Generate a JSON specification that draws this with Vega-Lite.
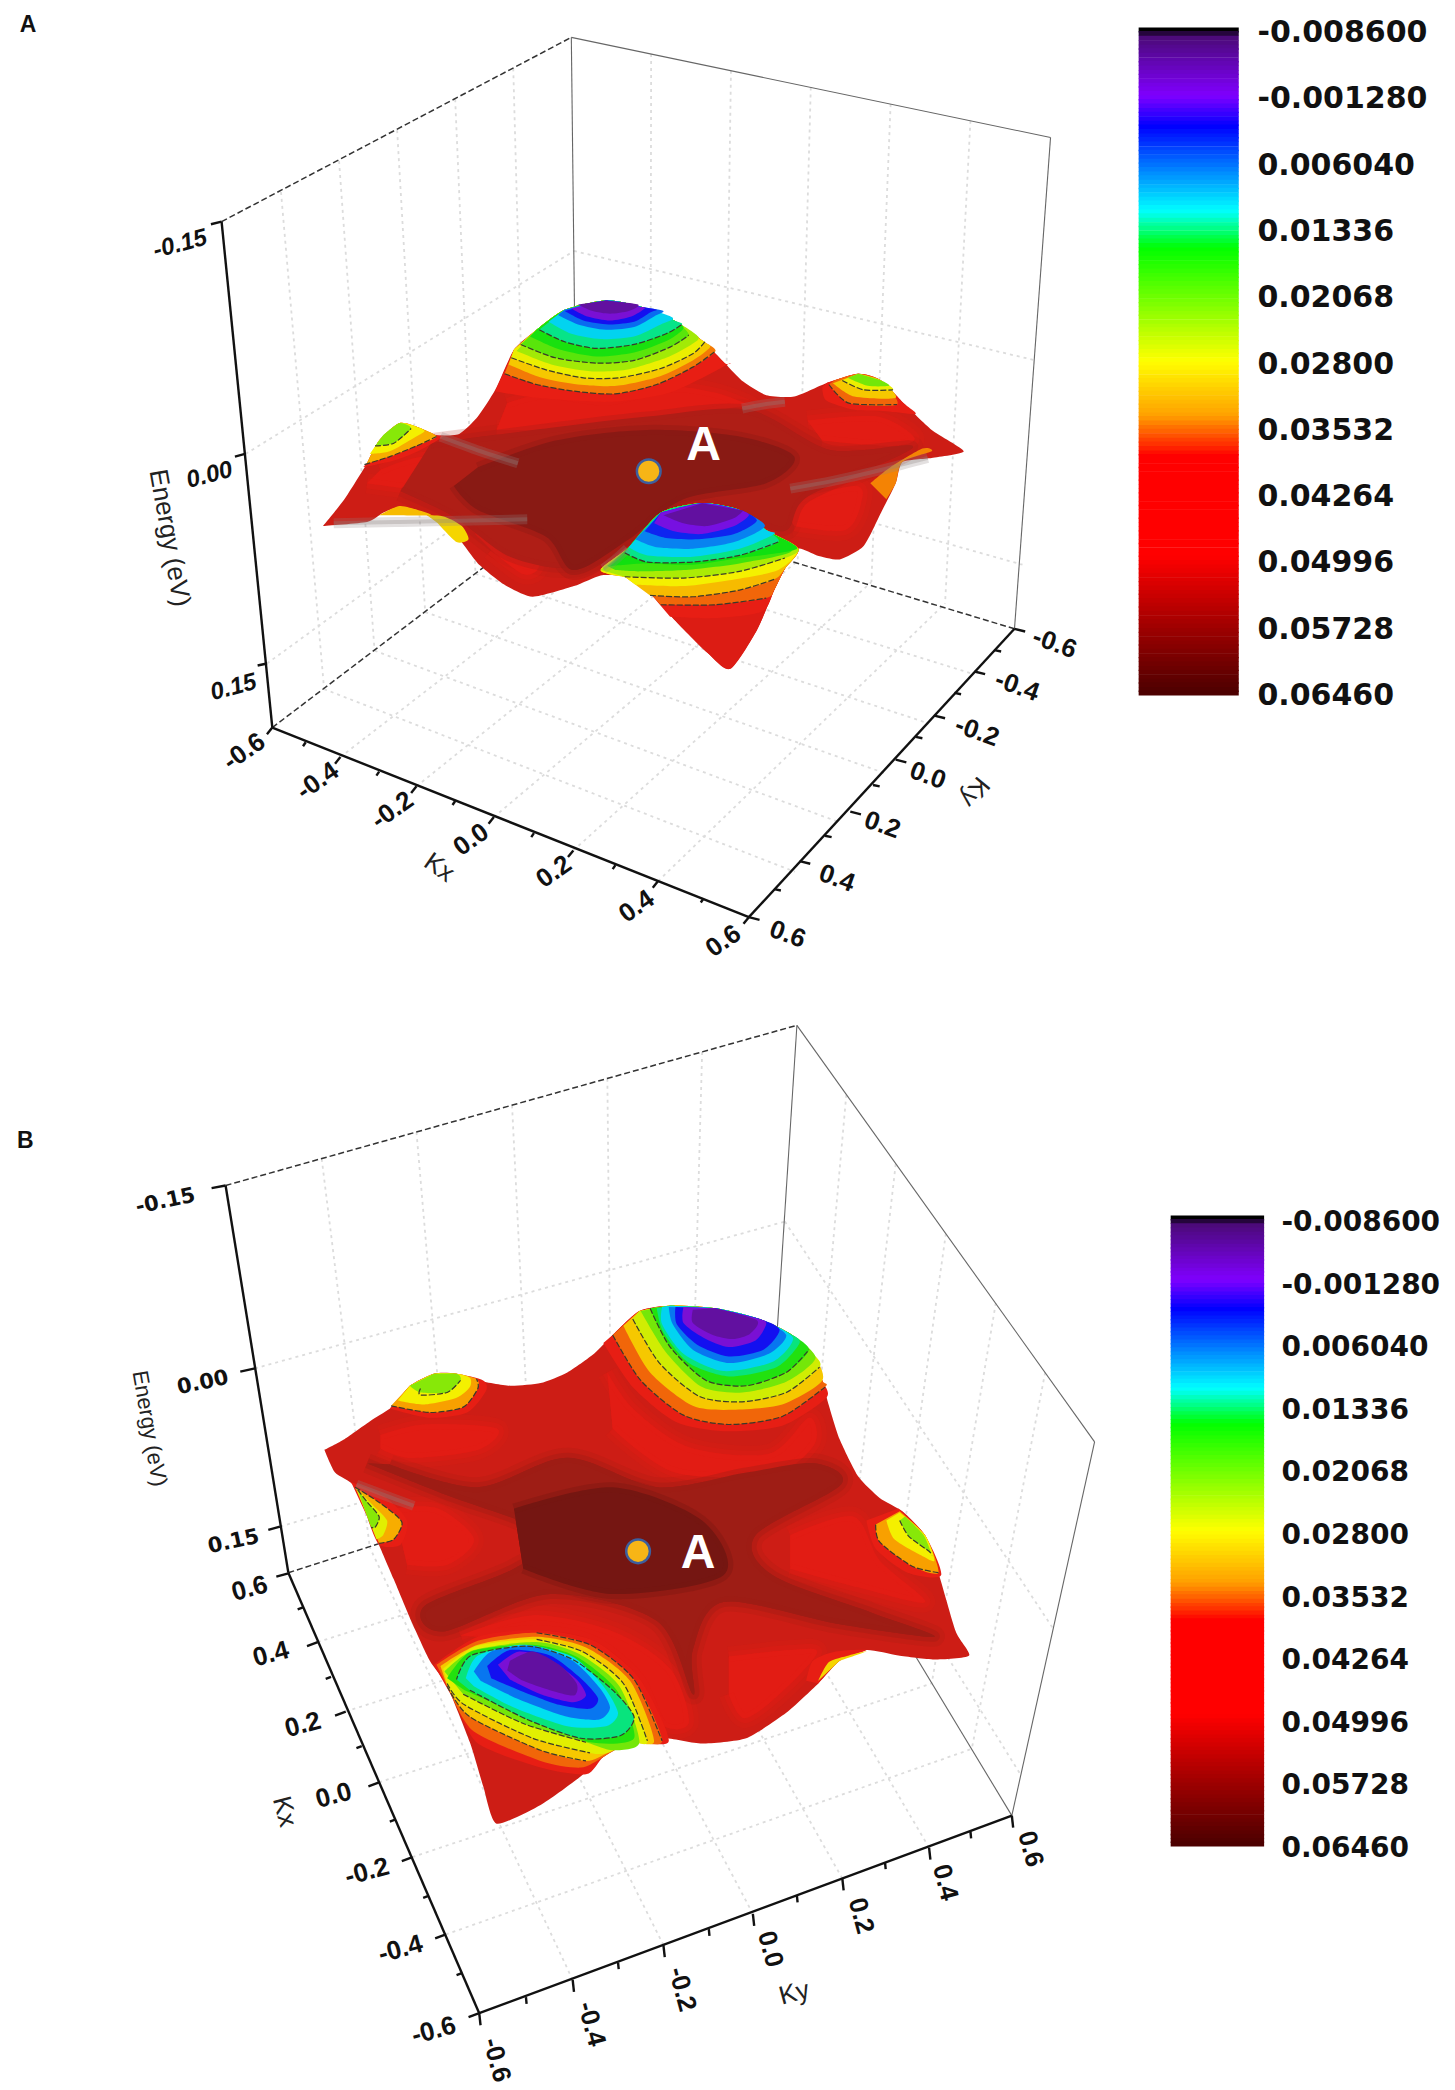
{
"$schema":"https://vega.github.io/schema/vega-lite/v6.json",
"width":1455,"height":2090,"padding":0,
"autosize":{"type":"fit","contains":"padding"},
"background":"white",
"config":{"view":{"stroke":null}},
"datasets":{
"grid":[
{"x":210.5,"y":143.8,"x2":242.8,"y2":516.2},{"x":254,"y":120.6,"x2":280.6,"y2":487.4},{"x":297.5,"y":97.5,"x2":318.5,"y2":458.5},{"x":341,"y":74.3,"x2":356.2,"y2":429.8},{"x":384.5,"y":51.2,"x2":394,"y2":401},
{"x":184,"y":340,"x2":430,"y2":188},{"x":200,"y":497,"x2":431,"y2":329},
{"x":487.8,"y":40.5,"x2":487.2,"y2":388},{"x":547.6,"y":53,"x2":542.4,"y2":404},{"x":607.4,"y":65.5,"x2":597.6,"y2":420},{"x":667.2,"y":78,"x2":652.8,"y2":436},{"x":727,"y":90.5,"x2":708,"y2":452},
{"x":430,"y":188,"x2":776,"y2":270},{"x":431,"y":329,"x2":766,"y2":423},
{"x":242.8,"y":516.2,"x2":595.5,"y2":653},{"x":280.6,"y":487.4,"x2":629,"y2":616},{"x":318.5,"y":458.5,"x2":662.5,"y2":579},{"x":356.2,"y":429.8,"x2":696,"y2":542},{"x":394,"y":401,"x2":729.5,"y2":505},
{"x":255,"y":567,"x2":487.2,"y2":388},{"x":312,"y":589,"x2":542.4,"y2":404},{"x":370,"y":612,"x2":597.6,"y2":420},{"x":429.5,"y":637,"x2":652.8,"y2":436},{"x":493,"y":660,"x2":708,"y2":452},
{"x":241,"y":868,"x2":277,"y2":1159},{"x":312,"y":848,"x2":337,"y2":1139},{"x":383.6,"y":828,"x2":398,"y2":1120},{"x":455,"y":808,"x2":458,"y2":1101},{"x":526,"y":788,"x2":518,"y2":1081},
{"x":191,"y":1025,"x2":588,"y2":915},{"x":210,"y":1143.5,"x2":580,"y2":1032},
{"x":634,"y":820,"x2":608,"y2":1112},{"x":671,"y":872,"x2":638,"y2":1161},{"x":708.6,"y":924,"x2":668,"y2":1211},{"x":746,"y":976,"x2":698,"y2":1261},{"x":783,"y":1028,"x2":728,"y2":1310},
{"x":588,"y":915,"x2":789,"y2":1220},{"x":580,"y":1032,"x2":765,"y2":1330},
{"x":238,"y":1230,"x2":608,"y2":1112},{"x":259,"y":1282,"x2":638,"y2":1161},{"x":284,"y":1335,"x2":668,"y2":1211},{"x":309,"y":1391,"x2":698,"y2":1261},{"x":334,"y":1449,"x2":728,"y2":1310},
{"x":429,"y":1483,"x2":277,"y2":1159},{"x":497,"y":1457,"x2":337.4,"y2":1139},{"x":564,"y":1433.5,"x2":397.6,"y2":1120},{"x":631,"y":1407,"x2":457.8,"y2":1101},{"x":696,"y":1384,"x2":518,"y2":1081}
],
"thin":[
{"x":428,"y":28,"x2":787,"y2":103},{"x":787,"y":103,"x2":760,"y2":471},{"x":428,"y":28,"x2":432,"y2":372},
{"x":597,"y":768,"x2":820,"y2":1080},{"x":820,"y":1080,"x2":758,"y2":1360},{"x":597,"y":768,"x2":578,"y2":1062},{"x":758,"y":1360,"x2":578,"y2":1062}
],
"dash":[
{"x":166,"y":166,"x2":428,"y2":28},{"x":204,"y":545,"x2":432,"y2":372},{"x":760,"y":471,"x2":432,"y2":372},
{"x":169,"y":888,"x2":597,"y2":768},{"x":216,"y":1178,"x2":578,"y2":1062}
],
"axis":[
{"x":166,"y":166,"x2":204,"y2":545},{"x":204,"y":545,"x2":561,"y2":687},{"x":561,"y":687,"x2":760,"y2":471},
{"x":169,"y":888,"x2":216,"y2":1178},{"x":216,"y":1178,"x2":359,"y2":1508},{"x":359,"y":1508,"x2":758,"y2":1360},
{"x":166,"y":166,"x2":158,"y2":168},{"x":183.5,"y":340,"x2":176,"y2":342},{"x":200,"y":497,"x2":193,"y2":498.5},
{"x":204,"y":545,"x2":200,"y2":550},{"x":255,"y":567,"x2":251,"y2":572},{"x":312,"y":589,"x2":308,"y2":594},{"x":370,"y":612,"x2":366,"y2":617},{"x":429.5,"y":637,"x2":425.5,"y2":642},{"x":493,"y":660,"x2":489,"y2":665},{"x":561,"y":687,"x2":557,"y2":692},
{"x":229,"y":556,"x2":227,"y2":559},{"x":284,"y":578,"x2":282,"y2":581},{"x":341,"y":600,"x2":339,"y2":603},{"x":400,"y":624,"x2":398,"y2":627},{"x":461,"y":648,"x2":459,"y2":651},{"x":527,"y":673,"x2":525,"y2":676},
{"x":760,"y":471,"x2":768,"y2":473},{"x":730,"y":503,"x2":738,"y2":505},{"x":700,"y":536,"x2":708,"y2":538},{"x":671,"y":569,"x2":679,"y2":571},{"x":637,"y":608,"x2":645,"y2":610},{"x":599,"y":645,"x2":607,"y2":647},{"x":561,"y":687,"x2":569,"y2":689},
{"x":745,"y":487,"x2":750,"y2":488},{"x":715,"y":519,"x2":720,"y2":520},{"x":686,"y":552,"x2":691,"y2":553},{"x":654,"y":588,"x2":659,"y2":589},{"x":618,"y":626,"x2":623,"y2":627},{"x":580,"y":666,"x2":585,"y2":667},
{"x":169,"y":888,"x2":158.5,"y2":890},{"x":191,"y":1025,"x2":180,"y2":1027.4},{"x":209.7,"y":1143.5,"x2":201,"y2":1146},
{"x":216,"y":1178.5,"x2":207,"y2":1181},{"x":238,"y":1230,"x2":230,"y2":1233},{"x":259,"y":1282,"x2":251,"y2":1285},{"x":284,"y":1335,"x2":276,"y2":1338},{"x":309,"y":1391,"x2":301,"y2":1394},{"x":334,"y":1449,"x2":326,"y2":1452},{"x":359,"y":1508,"x2":351,"y2":1511},
{"x":227,"y":1204,"x2":223,"y2":1205.5},{"x":248,"y":1256,"x2":244,"y2":1257.5},{"x":271,"y":1308,"x2":267,"y2":1309.5},{"x":296,"y":1363,"x2":292,"y2":1364.5},{"x":321,"y":1420,"x2":317,"y2":1421.5},{"x":346,"y":1478,"x2":342,"y2":1479.5},
{"x":359,"y":1508,"x2":360,"y2":1517},{"x":429,"y":1483,"x2":430,"y2":1492},{"x":497,"y":1457,"x2":498,"y2":1466},{"x":564,"y":1433.5,"x2":565,"y2":1442.5},{"x":631,"y":1407,"x2":632,"y2":1416},{"x":696,"y":1384,"x2":697,"y2":1393},{"x":758,"y":1360,"x2":759,"y2":1369},
{"x":394,"y":1496,"x2":394.5,"y2":1501},{"x":463,"y":1470,"x2":463.5,"y2":1475},{"x":531,"y":1445,"x2":531.5,"y2":1450},{"x":597,"y":1420,"x2":597.5,"y2":1425},{"x":663,"y":1395,"x2":663.5,"y2":1400},{"x":727,"y":1372,"x2":727.5,"y2":1377}
],
"sheet":[
{"id":"sa","v":0.052,"x":[242,258,275,284,299,313,327,344,358,371,385,402,423,454,481,505,526,543,557,574,595,619,643,660,677,698,722,698,676,671,660,647,629,612,598,588,580,567,547,530,505,485,468,450,430,399,378,358,344,327,313,299,287,275,242],"y":[394,374,347,330,317,320,326,325,312,292,262,247,232,225,230,240,255,272,286,296,297,287,280,285,302,322,338,343,346,362,384,409,419,416,411,426,442,472,501,489,464,442,432,431,439,447,438,422,404,390,383,380,384,391,394]},
{"id":"sb","v":0.052,"x":[243,258,278,295,307,325,342,358,382,405,425,445,459,479,502,536,569,592,609,616,621,629,643,659,676,693,703,716,726,700,673,649,629,613,589,559,526,499,472,452,432,405,372,362,352,335,322,308,295,283,266,251,243],"y":[1086,1078,1064,1053,1038,1029,1029,1034,1038,1036,1028,1014,1000,982,978,980,988,999,1014,1034,1053,1078,1106,1122,1132,1150,1178,1222,1240,1243,1240,1236,1244,1261,1283,1302,1306,1302,1305,1316,1333,1352,1366,1338,1305,1263,1244,1214,1183,1155,1114,1103,1086]}
],
"patches":[
{"id":"a01","v":0.047,"x":[285,323,375,361,313,275],"y":[352,342,362,372,367,362]},
{"id":"a02","v":0.047,"x":[605,657,685,667,616],"y":[315,312,328,334,330]},
{"id":"a03","v":0.047,"x":[585,640,645,633,595],"y":[377,364,377,397,394]},
{"id":"a04","v":0.047,"x":[356,375,402,404,392,368],"y":[400,392,400,424,430,412]},
{"id":"a05","v":0.047,"x":[372,402,457,512,550,562,535,500,455,410,380],"y":[322,322,320,313,305,304,294,290,300,295,302]},
{"id":"a06","v":0.056,"x":[323,416,485,561,622,684,605,585,519,471,430,382,340,300],"y":[332,320,312,307,337,335,372,398,374,404,425,417,387,368]},
{"id":"a07","v":0.06,"x":[358,416,485,554,595,574,512,471,430,409,358,340],"y":[350,330,322,327,342,362,374,404,427,402,382,364]},
{"id":"b01","v":0.047,"x":[285,318,372,358,308,285],"y":[1075,1067,1070,1086,1092,1085]},
{"id":"b02","v":0.047,"x":[295,328,355,335,305],"y":[1130,1130,1153,1172,1172]},
{"id":"b03","v":0.047,"x":[592,639,659,693,643,592],"y":[1150,1136,1169,1200,1189,1175]},
{"id":"b04","v":0.047,"x":[546,592,612,585,558,546],"y":[1241,1236,1238,1268,1287,1269]},
{"id":"b05","v":0.047,"x":[345,399,459,502,516,496,479,445,402,358],"y":[1225,1210,1222,1250,1290,1292,1257,1229,1221,1226]},
{"id":"b06","v":0.047,"x":[455,475,516,576,606,610,579,506,459],"y":[1028,1056,1084,1089,1062,1082,1104,1103,1070]},
{"id":"b07","v":0.058,"x":[292,358,425,492,559,610,630,566,579,653,700,626,542,519,519,492,412,332,318,385,412,335,275],"y":[1097,1114,1092,1114,1103,1096,1112,1150,1180,1208,1226,1216,1200,1236,1269,1214,1194,1222,1203,1175,1150,1120,1096]},
{"id":"b08","v":0.062,"x":[385,459,526,542,459,392],"y":[1130,1114,1139,1180,1194,1175]}
],
"bands":[
{"id":"a11","v":0.04,"x":[272,295,315,332,327,313,299,284,275],"y":[350,345,337,327,326,320,317,330,347]},
{"id":"a12","v":0.033,"x":[273,292,312,327,313,299,284,275],"y":[348,342,334,327,320,317,330,347]},
{"id":"a13","v":0.028,"x":[277,292,310,318,313,299,284],"y":[340,338,328,323,320,317,330]},
{"id":"a14","v":0.022,"x":[281,295,308,299,287],"y":[334,332,321,317,326]},
{"id":"a21","v":0.04,"x":[616,619,640,664,686,677,660,643,619],"y":[290,300,307,308,310,302,285,280,287]},
{"id":"a22","v":0.036,"x":[621,636,672,660,643,625],"y":[288,302,303,285,280,285]},
{"id":"a23","v":0.031,"x":[624,640,671,660,643],"y":[287,297,298,285,280]},
{"id":"a24","v":0.0275,"x":[631,647,669,660,643],"y":[285,292,292,285,280]},
{"id":"a25","v":0.021,"x":[635,650,666,660,643],"y":[283,289,289,285,280]},
{"id":"a31","v":0.03,"x":[320,333,346,351,342,328],"y":[386,387,394,404,406,392]},
{"id":"a32","v":0.032,"x":[284,299,313,323,299],"y":[386,379,382,386,386]},
{"id":"a33","v":0.035,"x":[652,667,691,698,676,671,664],"y":[362,350,336,338,346,362,374]},
{"id":"a41","v":0.039,"x":[371,402,457,502,545,543,526,505,481,454,423,402,385],"y":[293,298,301,294,273,272,255,240,230,225,232,247,262]},
{"id":"a42","v":0.0353,"x":[378,402,430,461,492,519,536,526,505,481,454,423,402,385],"y":[280,288,293,295,288,275,263,255,240,230,225,232,247,262]},
{"id":"a43","v":0.031,"x":[381,406,433,462,494,519,532,526,505,481,454,423,402,385],"y":[273,283,288,289,282,270,260,255,240,230,225,232,247,262]},
{"id":"a44","v":0.0275,"x":[383,409,437,464,495,519,528,526,505,481,454,423,402,385],"y":[268,277,283,283,276,265,256,255,240,230,225,232,247,262]},
{"id":"a45","v":0.0235,"x":[387,413,442,469,499,518,523,505,481,454,423,402],"y":[263,273,278,277,268,258,252,240,230,225,232,247]},
{"id":"a46","v":0.0195,"x":[390,416,447,475,502,516,505,481,454,423,402],"y":[258,268,272,270,260,251,240,230,225,232,247]},
{"id":"a47","v":0.016,"x":[397,420,447,475,500,512,505,481,454,423,402],"y":[252,262,267,264,255,246,240,230,225,232,247]},
{"id":"a48","v":0.0133,"x":[404,423,447,475,499,511,505,481,454,423],"y":[247,256,261,258,250,243,240,230,225,232]},
{"id":"a49","v":0.0105,"x":[411,428,450,475,495,504,481,454,423],"y":[241,250,254,252,243,238,230,225,232]},
{"id":"a50","v":0.006,"x":[418,433,454,475,490,497,481,454,423],"y":[236,243,247,245,237,233,230,225,232]},
{"id":"a51","v":0.002,"x":[423,437,456,475,487,492,481,454],"y":[233,240,243,241,234,232,230,225]},
{"id":"a52","v":-0.002,"x":[428,440,457,473,483,481,454],"y":[231,237,240,237,231,230,225]},
{"id":"a53","v":-0.005,"x":[433,444,457,471,478,454],"y":[228,233,235,233,228,225]},
{"id":"a60","v":0.05,"x":[450,471,495,526,554,574,598,588,580,567,547,530,505,485,468],"y":[427,410,384,377,382,397,411,426,442,472,501,489,464,442,432]},
{"id":"a61","v":0.04,"x":[502,536,571,580,588,598,574,554,526,495,471,450,468,485],"y":[462,463,458,442,426,411,397,382,377,384,410,427,432,442]},
{"id":"a62","v":0.036,"x":[495,536,574,580,588,598,574,554,526,495,471,450,468,485],"y":[453,453,448,442,426,411,397,382,377,384,410,427,432,442]},
{"id":"a63","v":0.032,"x":[487,519,554,580,588,598,574,554,526,495,471,450,468],"y":[446,447,442,434,426,411,397,382,377,384,410,427,432]},
{"id":"a64","v":0.028,"x":[476,512,550,583,598,574,554,526,495,471,450,468],"y":[438,439,434,427,411,397,382,377,384,410,427,432]},
{"id":"a65","v":0.024,"x":[468,512,554,588,598,574,554,526,495,471,450],"y":[432,433,428,418,411,397,382,377,384,410,427]},
{"id":"a66","v":0.018,"x":[461,478,512,554,593,574,554,526,495,471,455],"y":[427,428,427,422,413,397,382,377,384,410,424]},
{"id":"a67","v":0.0155,"x":[457,482,519,554,597,574,554,526,495,471],"y":[424,422,423,418,411,397,382,377,384,410]},
{"id":"a68","v":0.0133,"x":[468,485,519,554,583,574,554,526,495,471],"y":[414,421,421,416,406,397,382,377,384,410]},
{"id":"a69","v":0.0105,"x":[471,485,519,554,580,574,554,526,495],"y":[410,416,417,411,400,397,382,377,384]},
{"id":"a70","v":0.007,"x":[476,492,519,550,573,554,526,495],"y":[404,410,411,406,394,382,377,384]},
{"id":"a71","v":0.003,"x":[483,499,523,550,567,554,526,495],"y":[398,403,404,400,390,382,377,384]},
{"id":"a72","v":-0.001,"x":[490,505,526,550,561,554,526,495],"y":[392,398,400,394,386,382,377,384]},
{"id":"a73","v":-0.005,"x":[497,512,530,550,557,554,526],"y":[386,392,394,388,382,382,377]},
{"id":"b11","v":0.04,"x":[292,322,350,364,362,342,325,307],"y":[1055,1062,1058,1042,1034,1029,1029,1038]},
{"id":"b12","v":0.034,"x":[293,322,347,358,357,342,325,307],"y":[1053,1058,1054,1040,1033,1029,1029,1038]},
{"id":"b13","v":0.028,"x":[298,318,342,352,352,342,325,307],"y":[1049,1052,1047,1039,1032,1029,1029,1038]},
{"id":"b14","v":0.022,"x":[307,315,335,345,342,325],"y":[1038,1043,1043,1034,1029,1029]},
{"id":"b21","v":0.04,"x":[263,288,305,300,284,275],"y":[1110,1121,1139,1157,1157,1136]},
{"id":"b22","v":0.033,"x":[266,285,301,295,284],"y":[1114,1126,1140,1153,1156]},
{"id":"b23","v":0.027,"x":[267,280,290,287,282],"y":[1115,1128,1139,1150,1153]},
{"id":"b24","v":0.022,"x":[268,275,284,281,278],"y":[1116,1125,1136,1144,1144]},
{"id":"b31","v":0.04,"x":[649,656,680,705,693,673],"y":[1139,1160,1178,1180,1150,1130]},
{"id":"b32","v":0.034,"x":[656,659,683,703,693,674],"y":[1142,1155,1173,1178,1150,1132]},
{"id":"b33","v":0.028,"x":[664,670,690,700,693,674],"y":[1139,1153,1165,1169,1150,1133]},
{"id":"b34","v":0.022,"x":[674,681,696,698,692,678],"y":[1139,1151,1162,1165,1150,1136]},
{"id":"b41","v":0.04,"x":[604,609,626,649,629,613],"y":[1259,1244,1237,1236,1244,1261]},
{"id":"b42","v":0.03,"x":[613,621,636,649,629],"y":[1259,1245,1240,1237,1244]},
{"id":"b50","v":0.04,"x":[452,474,506,542,586,619,616,609,592,569,536,502,479,459],"y":[1006,1039,1065,1072,1068,1047,1034,1014,999,988,980,978,982,1000]},
{"id":"b51","v":0.036,"x":[459,480,512,546,586,618,616,609,592,569,536,502,479],"y":[1000,1034,1060,1067,1061,1039,1034,1014,999,988,980,978,982]},
{"id":"b52","v":0.031,"x":[467,487,519,549,586,616,609,592,569,536,502,479],"y":[993,1028,1053,1056,1052,1034,1014,999,988,980,978,982]},
{"id":"b53","v":0.026,"x":[474,494,524,556,589,614,609,592,569,536,502,479],"y":[988,1021,1046,1050,1043,1024,1014,999,988,980,978,982]},
{"id":"b54","v":0.021,"x":[480,499,526,556,589,611,592,569,536,502],"y":[982,1013,1039,1043,1035,1017,999,988,980,978]},
{"id":"b55","v":0.0165,"x":[487,502,529,559,589,606,592,569,536,502],"y":[980,1009,1034,1038,1028,1011,999,988,980,978]},
{"id":"b56","v":0.0135,"x":[492,497,516,546,582,599,592,569,536,502],"y":[980,998,1021,1031,1024,1006,999,988,980,978]},
{"id":"b57","v":0.0105,"x":[496,496,512,542,579,594,569,536,502],"y":[979,992,1014,1027,1020,1002,988,980,978]},
{"id":"b58","v":0.0065,"x":[501,504,519,546,576,589,569,536],"y":[979,992,1011,1021,1014,1000,988,980]},
{"id":"b59","v":0.002,"x":[506,507,522,546,572,584,569,536],"y":[979,992,1007,1016,1011,996,988,980]},
{"id":"b60","v":-0.002,"x":[512,512,527,546,566,574,569,536],"y":[979,991,1002,1009,1004,992,988,980]},
{"id":"b61","v":-0.005,"x":[519,519,534,549,562,567,536],"y":[981,991,1000,1003,999,989,980]},
{"id":"b70","v":0.04,"x":[325,358,402,445,479,501,472,452,439,405,358,342],"y":[1247,1226,1221,1229,1257,1304,1305,1316,1329,1324,1306,1277]},
{"id":"b71","v":0.036,"x":[327,358,402,442,475,496,472,452,435,405,355,338],"y":[1247,1229,1223,1232,1258,1304,1305,1316,1324,1319,1297,1269]},
{"id":"b72","v":0.031,"x":[330,358,402,439,472,490,472,455,439,405,352,335],"y":[1248,1232,1226,1234,1259,1304,1305,1313,1319,1311,1286,1263]},
{"id":"b73","v":0.027,"x":[332,357,402,436,467,485,472,455,442,399,348,335],"y":[1250,1233,1228,1237,1261,1304,1305,1313,1313,1302,1277,1261]},
{"id":"b74","v":0.021,"x":[333,355,402,434,464,479,459,439,392,347],"y":[1252,1236,1230,1239,1263,1305,1311,1305,1291,1269]},
{"id":"b75","v":0.0165,"x":[335,353,399,432,462,475,442,399,348],"y":[1257,1237,1232,1241,1266,1302,1305,1288,1266]},
{"id":"b76","v":0.0135,"x":[342,353,395,429,459,475,465,435,395,352],"y":[1258,1240,1233,1243,1266,1286,1300,1302,1288,1266]},
{"id":"b77","v":0.011,"x":[349,358,392,429,452,463,454,425,385,355],"y":[1257,1240,1232,1241,1263,1283,1293,1293,1279,1263]},
{"id":"b78","v":0.0065,"x":[355,368,399,429,449,457,449,425,389,360],"y":[1252,1237,1233,1244,1264,1279,1288,1286,1273,1259]},
{"id":"b79","v":0.002,"x":[365,382,412,435,448,442,419,389,368],"y":[1248,1236,1240,1257,1272,1280,1277,1266,1257]},
{"id":"b80","v":-0.002,"x":[373,389,412,432,439,429,405,382],"y":[1247,1237,1243,1258,1270,1275,1269,1258]},
{"id":"b81","v":-0.005,"x":[382,399,419,432,430,412,392,380],"y":[1244,1237,1247,1261,1270,1266,1259,1251]}
],
"contours":[
{"id":"c01","x":[378,402,430,461,492,519,536],"y":[280,288,293,295,288,275,263]},
{"id":"c02","x":[383,409,437,464,495,519,528],"y":[268,277,283,283,276,265,256]},
{"id":"c03","x":[390,416,447,475,502,516],"y":[258,268,272,270,260,251]},
{"id":"c04","x":[404,423,447,475,499,511],"y":[247,256,261,258,250,243]},
{"id":"c05","x":[273,292,312,327],"y":[348,342,334,327]},
{"id":"c06","x":[281,295,308],"y":[334,332,321]},
{"id":"c07","x":[621,636,672],"y":[288,302,303]},
{"id":"c08","x":[631,647,669],"y":[285,292,292]},
{"id":"c09","x":[495,536,574],"y":[453,453,448]},
{"id":"c10","x":[487,519,554,580],"y":[446,447,442,434]},
{"id":"c11","x":[468,512,554,588],"y":[432,433,428,418]},
{"id":"c12","x":[468,485,519,554,583],"y":[414,421,421,416,406]},
{"id":"c13","x":[459,480,512,546,586,618],"y":[1000,1034,1060,1067,1061,1039]},
{"id":"c14","x":[474,494,524,556,589,614],"y":[988,1021,1046,1050,1043,1024]},
{"id":"c15","x":[487,502,529,559,589,606],"y":[980,1009,1034,1038,1028,1011]},
{"id":"c16","x":[293,322,347,358,357],"y":[1053,1058,1054,1040,1033]},
{"id":"c17","x":[315,315,335,345],"y":[1040,1045,1043,1034]},
{"id":"c18","x":[266,285,301,295,284],"y":[1114,1126,1140,1153,1156]},
{"id":"c19","x":[268,275,284,281,278],"y":[1116,1125,1136,1144,1144]},
{"id":"c20","x":[656,659,683,703],"y":[1142,1155,1173,1178]},
{"id":"c21","x":[674,681,696,698],"y":[1139,1151,1162,1165]},
{"id":"c22","x":[335,352,405,439],"y":[1263,1286,1311,1319]},
{"id":"c23","x":[335,348,399,442],"y":[1261,1277,1302,1313]},
{"id":"c24","x":[347,392,439],"y":[1269,1291,1305]},
{"id":"c25","x":[352,395,435,465,475,459,429,395,353,342],"y":[1266,1288,1302,1300,1286,1266,1243,1233,1240,1258]},
{"id":"c26","x":[402,442,475,496],"y":[1223,1232,1258,1304]},
{"id":"c27","x":[402,436,467,485],"y":[1228,1237,1261,1304]}
],
"streaks":[
{"id":"s1","x":[250,300,395],"y":[392,391,389]},
{"id":"s2","x":[330,360,388],"y":[327,338,347]},
{"id":"s3","x":[556,572,588],"y":[306,303,301]},
{"id":"s4","x":[592,625,660,695],"y":[366,360,352,343]},
{"id":"s5","x":[452,460,470],"y":[426,420,411]},
{"id":"s6","x":[267,288,310],"y":[1112,1120,1128]}
],
"markers":[{"x":486,"y":353},{"x":478,"y":1162}],
"onsheet":[{"t":"A","x":527,"y":334},{"t":"A","x":523,"y":1164}],
"panels":[{"t":"A","x":21,"y":19},{"t":"B","x":19,"y":855}],
"ticklabels":[
{"t":"-0.6","x":183,"y":563,"a":325},{"t":"-0.4","x":238,"y":585,"a":325},{"t":"-0.2","x":294,"y":607,"a":325},{"t":"0.0","x":353,"y":629,"a":325},{"t":"0.2","x":415,"y":653,"a":325},{"t":"0.4","x":477,"y":679,"a":325},{"t":"0.6","x":542,"y":705,"a":325},
{"t":"-0.6","x":790,"y":482,"a":20},{"t":"-0.4","x":762,"y":514,"a":20},{"t":"-0.2","x":732,"y":548,"a":20},{"t":"0.0","x":695,"y":581,"a":20},{"t":"0.2","x":661,"y":618,"a":20},{"t":"0.4","x":627,"y":658,"a":20},{"t":"0.6","x":590,"y":700,"a":20},
{"t":"0.6","x":187,"y":1190,"a":345},{"t":"0.4","x":203,"y":1239,"a":345},{"t":"0.2","x":227,"y":1292,"a":345},{"t":"0.0","x":250,"y":1345,"a":345},{"t":"-0.2","x":275,"y":1402,"a":345},{"t":"-0.4","x":300,"y":1460,"a":345},{"t":"-0.6","x":325,"y":1521,"a":345},
{"t":"-0.6","x":372,"y":1543,"a":75},{"t":"-0.4","x":443,"y":1516,"a":75},{"t":"-0.2","x":511,"y":1490,"a":75},{"t":"0.0","x":577,"y":1460,"a":75},{"t":"0.2","x":645,"y":1435,"a":75},{"t":"0.4","x":708,"y":1410,"a":75},{"t":"0.6","x":772,"y":1385,"a":75}
],
"energyA":[{"t":"-0.15","x":135,"y":183,"a":345},{"t":"0.00","x":157,"y":356,"a":345},{"t":"0.15","x":175,"y":515,"a":345}],
"energyB":[{"t":"-0.15","x":124,"y":900,"a":348},{"t":"0.00","x":152,"y":1036,"a":348},{"t":"0.15","x":175,"y":1155,"a":348}],
"titles":[
{"t":"Energy (eV)","x":127,"y":403,"a":80},{"t":"Kx","x":329,"y":650,"a":35},{"t":"Ky","x":730,"y":593,"a":130},
{"t":"Kx","x":213,"y":1357,"a":75},{"t":"Ky","x":595,"y":1493,"a":345}
],
"titlesSmall":[{"t":"Energy (eV)","x":112,"y":1070,"a":80}],
"ramp":[{"v":[-0.0086,-0.0082,-0.0077,-0.0072,-0.0067,-0.0063,-0.0058,-0.0053,-0.0049,-0.0044,-0.0039,-0.0035,-0.003,-0.0025,-0.0021,-0.0016,-0.0011,-0.0007,-0.0002,0.0003,0.0007,0.0012,0.0017,0.0021,0.0026,0.0031,0.0035,0.004,0.0045,0.0049,0.0054,0.0059,0.0063,0.0068,0.0073,0.0077,0.0082,0.0087,0.0091,0.0096,0.0101,0.0105,0.011,0.0115,0.0119,0.0124,0.0129,0.0133,0.0138,0.0143,0.0147,0.0152,0.0157,0.0161,0.0166,0.0171,0.0175,0.018,0.0185,0.0189,0.0194,0.0199,0.0203,0.0208,0.0213,0.0217,0.0222,0.0227,0.0231,0.0236,0.0241,0.0245,0.025,0.0255,0.0259,0.0264,0.0269,0.0273,0.0278,0.0283,0.0287,0.0292,0.0297,0.0301,0.0306,0.0311,0.0315,0.032,0.0325,0.0329,0.0334,0.0339,0.0343,0.0348,0.0353,0.0357,0.0362,0.0367,0.0371,0.0376,0.0381,0.0385,0.039,0.0395,0.0399,0.0404,0.0409,0.0413,0.0418,0.0423,0.0427,0.0432,0.0437,0.0441,0.0446,0.0451,0.0455,0.046,0.0465,0.0469,0.0474,0.0479,0.0483,0.0488,0.0493,0.0497,0.0502,0.0507,0.0511,0.0516,0.0521,0.0525,0.053,0.0535,0.0539,0.0544,0.0549,0.0553,0.0558,0.0563,0.0567,0.0572,0.0577,0.0581,0.0586,0.0591,0.0595,0.06,0.0605,0.0609,0.0614,0.0619,0.0623,0.0628,0.0633,0.0637,0.0642,0.0646]}],
"rampLabels":[{"v":-0.0086,"t":"-0.008600"},{"v":-0.00128,"t":"-0.001280"},{"v":0.00604,"t":"0.006040"},{"v":0.01336,"t":"0.01336"},{"v":0.02068,"t":"0.02068"},{"v":0.028,"t":"0.02800"},{"v":0.03532,"t":"0.03532"},{"v":0.04264,"t":"0.04264"},{"v":0.04996,"t":"0.04996"},{"v":0.05728,"t":"0.05728"},{"v":0.0646,"t":"0.06460"}]
},
"layer":[
{
"encoding":{
"x":{"field":"x","type":"quantitative","scale":{"domain":[0,1090],"nice":false,"zero":false},"axis":null},
"y":{"field":"y","type":"quantitative","scale":{"domain":[1565.5,0],"nice":false,"zero":false},"axis":null}
},
"layer":[
{"data":{"name":"grid"},"mark":{"type":"rule","stroke":"#dcdcdc","strokeWidth":1.8,"strokeDash":[3,4]},"encoding":{"x2":{"field":"x2"},"y2":{"field":"y2"}}},
{"data":{"name":"thin"},"mark":{"type":"rule","stroke":"#666666","strokeWidth":1.1},"encoding":{"x2":{"field":"x2"},"y2":{"field":"y2"}}},
{"data":{"name":"dash"},"mark":{"type":"rule","stroke":"#333333","strokeWidth":1.5,"strokeDash":[6,3]},"encoding":{"x2":{"field":"x2"},"y2":{"field":"y2"}}},
{"data":{"name":"axis"},"mark":{"type":"rule","stroke":"#111111","strokeWidth":2.4},"encoding":{"x2":{"field":"x2"},"y2":{"field":"y2"}}},
{"data":{"name":"sheet"},"transform":[{"flatten":["x","y"]},{"window":[{"op":"row_number","as":"i"}]}],
"mark":{"type":"line","strokeWidth":0,"interpolate":"cardinal","tension":0.4},
"encoding":{"detail":{"field":"id"},"order":{"field":"i","type":"quantitative"},
"fill":{"field":"v","type":"quantitative","legend":null,"scale":{"interpolate":"rgb","domain":[-0.0086,-0.0078,-0.00128,0.0021,0.0114,0.0155,0.028,0.034,0.0385,0.0495,0.0573,0.0646],"range":["#000000","#4b1070","#8010e0","#1010f0","#00e8f0","#10e010","#f4f000","#f8a000","#e81e14","#e01c14","#a51e16","#5a1210"]}}}},
{"data":{"name":"patches"},"transform":[{"flatten":["x","y"]},{"window":[{"op":"row_number","as":"i"}]}],
"mark":{"type":"line","strokeWidth":20,"strokeOpacity":0.2,"interpolate":"cardinal","tension":0.1},
"encoding":{"detail":{"field":"id"},"order":{"field":"i","type":"quantitative"},
"fill":{"field":"v","type":"quantitative","legend":null},
"stroke":{"field":"v","type":"quantitative","legend":null,"scale":{"interpolate":"rgb","domain":[-0.0086,-0.0078,-0.00128,0.0021,0.0114,0.0155,0.028,0.034,0.0385,0.0495,0.0573,0.0646],"range":["#000000","#4b1070","#8010e0","#1010f0","#00e8f0","#10e010","#f4f000","#f8a000","#e81e14","#e01c14","#a51e16","#5a1210"]}}}},
{"data":{"name":"patches"},"transform":[{"flatten":["x","y"]},{"window":[{"op":"row_number","as":"i"}]}],
"mark":{"type":"line","strokeWidth":10,"strokeOpacity":0.35,"interpolate":"cardinal","tension":0.1},
"encoding":{"detail":{"field":"id"},"order":{"field":"i","type":"quantitative"},
"fill":{"field":"v","type":"quantitative","legend":null},
"stroke":{"field":"v","type":"quantitative","legend":null}}},
{"data":{"name":"bands"},"transform":[{"flatten":["x","y"]},{"window":[{"op":"row_number","as":"i"}]}],
"mark":{"type":"line","strokeWidth":0,"interpolate":"cardinal","tension":0.25},
"encoding":{"detail":{"field":"id"},"order":{"field":"i","type":"quantitative"},
"fill":{"field":"v","type":"quantitative","legend":null}}},
{"data":{"name":"streaks"},"transform":[{"flatten":["x","y"]},{"window":[{"op":"row_number","as":"i"}]}],
"mark":{"type":"line","stroke":"#8f8582","strokeWidth":10,"opacity":0.25,"interpolate":"cardinal"},
"encoding":{"detail":{"field":"id"},"order":{"field":"i","type":"quantitative"}}},
{"data":{"name":"streaks"},"transform":[{"flatten":["x","y"]},{"window":[{"op":"row_number","as":"i"}]}],
"mark":{"type":"line","stroke":"#8f8582","strokeWidth":4,"opacity":0.3,"interpolate":"cardinal"},
"encoding":{"detail":{"field":"id"},"order":{"field":"i","type":"quantitative"}}},
{"data":{"name":"contours"},"transform":[{"flatten":["x","y"]},{"window":[{"op":"row_number","as":"i"}]}],
"mark":{"type":"line","stroke":"#3a3a2a","strokeWidth":1.2,"strokeDash":[6,2],"interpolate":"cardinal","tension":0.25},
"encoding":{"detail":{"field":"id"},"order":{"field":"i","type":"quantitative"}}},
{"data":{"name":"markers"},"mark":{"type":"point","filled":true,"fill":"#f7b516","stroke":"#3d5f9e","strokeWidth":2.5,"opacity":1,"size":560}},
{"data":{"name":"onsheet"},"mark":{"type":"text","font":"Liberation Sans","fontWeight":"bold","fontSize":48,"fill":"white","baseline":"middle"},"encoding":{"text":{"field":"t"}}},
{"data":{"name":"panels"},"mark":{"type":"text","font":"Liberation Sans","fontWeight":"bold","fontSize":23,"fill":"#111111","baseline":"middle"},"encoding":{"text":{"field":"t"}}},
{"data":{"name":"ticklabels"},"mark":{"type":"text","font":"Liberation Sans","fontWeight":"bold","fontSize":26,"fill":"#111111","baseline":"middle"},"encoding":{"text":{"field":"t"},"angle":{"field":"a","type":"quantitative","scale":null}}},
{"data":{"name":"energyA"},"mark":{"type":"text","font":"Liberation Sans","fontWeight":"bold","fontStyle":"italic","fontSize":24,"fill":"#111111","baseline":"middle"},"encoding":{"text":{"field":"t"},"angle":{"field":"a","type":"quantitative","scale":null}}},
{"data":{"name":"energyB"},"mark":{"type":"text","font":"DejaVu Sans","fontWeight":"bold","fontSize":21,"fill":"#111111","baseline":"middle"},"encoding":{"text":{"field":"t"},"angle":{"field":"a","type":"quantitative","scale":null}}},
{"data":{"name":"titles"},"mark":{"type":"text","font":"Liberation Sans","fontSize":26,"fill":"#222222","baseline":"middle"},"encoding":{"text":{"field":"t"},"angle":{"field":"a","type":"quantitative","scale":null}}},
{"data":{"name":"titlesSmall"},"mark":{"type":"text","font":"Liberation Sans","fontSize":22,"fill":"#222222","baseline":"middle"},"encoding":{"text":{"field":"t"},"angle":{"field":"a","type":"quantitative","scale":null}}}
]},
{"transform":[{"flatten":["v"]}],"data":{"name":"ramp"},
"layer":[
{"mark":{"type":"rule","strokeWidth":5},
"encoding":{"x":{"datum":853,"type":"quantitative","scale":{"domain":[0,1090],"nice":false,"zero":false},"axis":null},"x2":{"datum":928},
"y":{"field":"v","type":"quantitative","scale":{"domain":[-0.0086,0.0646],"range":[30,693],"nice":false,"zero":false},"axis":null},
"stroke":{"field":"v","type":"quantitative","legend":null,"scale":{"interpolate":"rgb","domain":[-0.0086,-0.0078,-0.00128,0.0021,0.0114,0.0155,0.028,0.034,0.0385,0.0495,0.0573,0.0646],"range":["#000000","#4b0a78","#8000ff","#0000ff","#00ffff","#00ff00","#ffff00","#ffa000","#ff0000","#ff0000","#a00000","#4d0000"]}}}},
{"data":{"name":"rampLabels"},"transform":[],"mark":{"type":"text","font":"DejaVu Sans","fontWeight":"bold","fontSize":30,"fill":"#111111","align":"left","baseline":"middle","dy":3},
"encoding":{"x":{"datum":942,"type":"quantitative","scale":{"domain":[0,1090],"nice":false,"zero":false},"axis":null},
"y":{"field":"v","type":"quantitative","scale":{"domain":[-0.0086,0.0646],"range":[30,693],"nice":false,"zero":false},"axis":null},
"text":{"field":"t"}}}
]},
{"transform":[{"flatten":["v"]}],"data":{"name":"ramp"},
"layer":[
{"mark":{"type":"rule","strokeWidth":5},
"encoding":{"x":{"datum":877,"type":"quantitative","scale":{"domain":[0,1090],"nice":false,"zero":false},"axis":null},"x2":{"datum":947},
"y":{"field":"v","type":"quantitative","scale":{"domain":[-0.0086,0.0646],"range":[1218,1844],"nice":false,"zero":false},"axis":null},
"stroke":{"field":"v","type":"quantitative","legend":null,"scale":{"interpolate":"rgb","domain":[-0.0086,-0.0078,-0.00128,0.0021,0.0114,0.0155,0.028,0.034,0.0385,0.0495,0.0573,0.0646],"range":["#000000","#4b0a78","#8000ff","#0000ff","#00ffff","#00ff00","#ffff00","#ffa000","#ff0000","#ff0000","#a00000","#4d0000"]}}}},
{"data":{"name":"rampLabels"},"transform":[],"mark":{"type":"text","font":"DejaVu Sans","fontWeight":"bold","fontSize":28,"fill":"#111111","align":"left","baseline":"middle","dy":5},
"encoding":{"x":{"datum":960,"type":"quantitative","scale":{"domain":[0,1090],"nice":false,"zero":false},"axis":null},
"y":{"field":"v","type":"quantitative","scale":{"domain":[-0.0086,0.0646],"range":[1218,1844],"nice":false,"zero":false},"axis":null},
"text":{"field":"t"}}}
]}
],
"resolve":{"scale":{"y":"independent","stroke":"independent"}}
}
